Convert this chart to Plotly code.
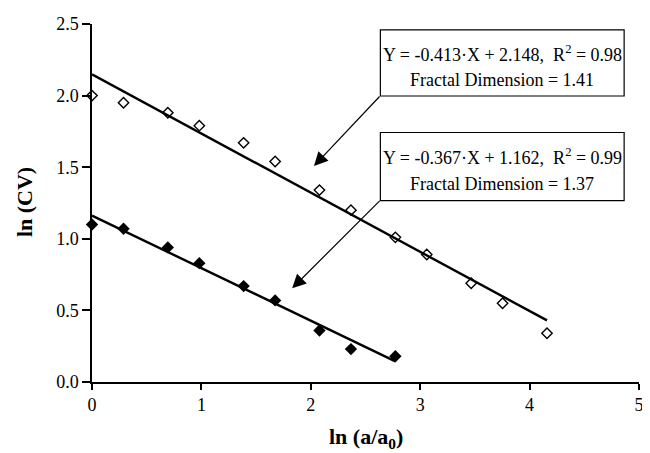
import numpy as np
import plotly.graph_objects as go

# data
x_open = [0, 0.288, 0.693, 0.981, 1.386, 1.674, 2.079, 2.367, 2.773, 3.060, 3.466, 3.753, 4.159]
y_open = [2.00, 1.95, 1.88, 1.79, 1.67, 1.54, 1.34, 1.20, 1.01, 0.89, 0.69, 0.55, 0.34]
x_fill = [0, 0.288, 0.693, 0.981, 1.386, 1.674, 2.079, 2.367, 2.773]
y_fill = [1.10, 1.07, 0.94, 0.83, 0.67, 0.57, 0.36, 0.23, 0.18]
fit_open = (-0.413, 2.148)
fit_fill = (-0.367, 1.162)
x_ticks = [0, 1, 2, 3, 4, 5]
y_ticks = [0.0, 0.5, 1.0, 1.5, 2.0, 2.5]

FONT = "Liberation Serif"

# page body has an 8px default margin
OFF = 8
PX0, PX1 = 92, 644      # plot area in window pixels
PY0, PY1 = 19, 382
W, H = 650 - OFF, 453 - OFF
L, R, T, B = PX0 - OFF, 650 - PX1, PY0 - OFF, 453 - PY1

def px(xp):
    return (xp - PX0) / (PX1 - PX0)

def py(yp):
    return (PY1 - yp) / (PY1 - PY0)

def line(xs, fit):
    xx = np.array([min(xs), max(xs)])
    return xx, fit[0] * xx + fit[1]

fig = go.Figure()
lx, ly = line(x_open, fit_open)
fig.add_trace(go.Scatter(x=lx, y=ly, mode="lines", line=dict(color="black", width=2.4), cliponaxis=False))
lx, ly = line(x_fill, fit_fill)
fig.add_trace(go.Scatter(x=lx, y=ly, mode="lines", line=dict(color="black", width=2.4), cliponaxis=False))
fig.add_trace(go.Scatter(x=x_open, y=y_open, mode="markers", cliponaxis=False,
                         marker=dict(symbol="diamond-open", size=8, color="black", line=dict(width=1.4, color="black"))))
fig.add_trace(go.Scatter(x=x_fill, y=y_fill, mode="markers", cliponaxis=False,
                         marker=dict(symbol="diamond", size=9.5, color="black")))

axis_common = dict(showgrid=False, zeroline=False, showline=True, linecolor="black", linewidth=1.5,
                   ticks="outside", tickcolor="black", tickwidth=1.5, ticklabeloverflow="allow",
                   tickfont=dict(family=FONT, size=18, color="black"))
fig.update_xaxes(range=[0, 5], tickvals=x_ticks, ticklen=6, **axis_common)
fig.update_yaxes(range=[0, 2.5], tickvals=y_ticks, tickformat=".1f", ticklen=8, **axis_common)

shapes = [
    dict(type="rect", xref="paper", yref="paper", x0=px(383), x1=px(629), y0=py(92), y1=py(25),
         line=dict(color="black", width=1.2), fillcolor="white", layer="above"),
    dict(type="rect", xref="paper", yref="paper", x0=px(383), x1=px(629), y0=py(198), y1=py(129),
         line=dict(color="black", width=1.2), fillcolor="white", layer="above"),
]

tf = dict(family=FONT, size=18, color="black")
cx = px(506)
def txt(y, s):
    return dict(xref="paper", yref="paper", x=cx, y=py(y), xanchor="center", yanchor="middle",
                showarrow=False, font=tf, text=s)

annotations = [
    txt(49, "Y = -0.413·X + 2.148,&nbsp; R<sup>2</sup> = 0.98"),
    txt(76, "Fractal Dimension = 1.41"),
    txt(153, "Y = -0.367·X + 1.162,&nbsp; R<sup>2</sup> = 0.99"),
    txt(181, "Fractal Dimension = 1.37"),
    dict(xref="paper", yref="paper", x=px(316), y=py(163), ax=383 - 316, ay=92 - 163,
         showarrow=True, arrowhead=2, arrowsize=2.3, arrowwidth=1.2, arrowcolor="black", text=""),
    dict(xref="paper", yref="paper", x=px(294), y=py(287), ax=383 - 294, ay=198 - 287,
         showarrow=True, arrowhead=2, arrowsize=2.3, arrowwidth=1.2, arrowcolor="black", text=""),
    dict(xref="paper", yref="paper", x=px(24), y=py(200), xanchor="center", yanchor="middle",
         showarrow=False, textangle=-90,
         font=dict(family=FONT, size=22, color="black"), text="<b>ln (CV)</b>"),
    dict(xref="paper", yref="paper", x=px(368), y=py(439), xanchor="center", yanchor="middle",
         showarrow=False,
         font=dict(family=FONT, size=22, color="black"), text="<b>ln (a/a<sub>0</sub>)</b>"),
]

fig.update_layout(width=W, height=H, margin=dict(l=L, r=R, t=T, b=B),
                  plot_bgcolor="white", paper_bgcolor="white", showlegend=False,
                  shapes=shapes, annotations=annotations)
fig.write_html("out.html")
